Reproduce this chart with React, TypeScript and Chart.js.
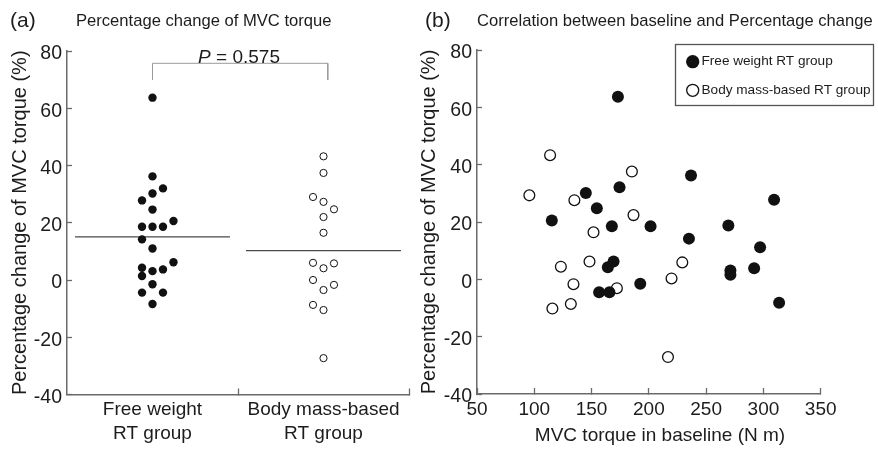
import React, { useEffect, useRef } from "react";
import { Chart, registerables } from "chart.js";

Chart.register(...registerables);

const FONT = "'Liberation Sans', Arial, Helvetica, sans-serif";

// ---------- Panel (a) data ----------
const groupLabels = [
  ["Free weight", "RT group"],
  ["Body mass-based", "RT group"],
];
const freeWeightChange = [63.7, 36.2, 32.0, 30.2, 27.8, 24.6, 20.6, 18.6, 18.6, 18.6, 14.2, 11.0, 6.2, 4.3, 3.7, 3.1, 1.4, -1.5, -4.4, -4.4, -8.4];
const freeWeightSlot = [0, 0, 1, 0, -1, 0, 2, -1, 0, 1, -1, 0, 2, -1, 1, 0, -1, 0, -1, 1, 0];
const bodyMassChange = [43.2, 37.4, 29.0, 27.3, 24.7, 22.0, 16.5, 6.0, 5.8, 4.1, 0.0, -1.7, -3.5, -8.7, -10.5, -27.3];
const bodyMassSlot = [0, 0, -1, 0, 1, 0, 0, -1, 1, 0, -1, 1, 0, -1, 0, 0];
const pValue = "0.575";
const yMin = -40;
const yMax = 80;
const yStep = 20;

// ---------- Panel (b) data ----------
const freeWeightBaseline = [173, 145, 174.4, 236.8, 154.6, 115.3, 167.7, 201.5, 269.4, 309.3, 235, 297.1, 169.2, 164.2, 271.2, 271.2, 291.9, 192.5, 156.6, 165.6, 313.7];
const freeWeightChangeB = [63.7, 30.1, 32.1, 36.2, 24.8, 20.5, 18.5, 18.5, 18.8, 27.8, 14.2, 11.2, 6.2, 4.2, 3.1, 1.6, 3.9, -1.5, -4.5, -4.5, -8.2];
const bodyMassBaseline = [113.8, 95.7, 135, 185.2, 186.6, 151.7, 148.2, 123.2, 229.2, 219.8, 134.2, 172.1, 131.9, 115.8, 216.7];
const bodyMassChangeB = [43.3, 29.3, 27.6, 37.6, 22.4, 16.4, 6.2, 4.4, 5.9, 0.3, -1.7, -3.1, -8.6, -10.2, -27.1];
const xMinB = 50;
const xMaxB = 350;
const xStepB = 50;

const seriesNames = ["Free weight RT group", "Body mass-based RT group"];
const titleA = "Percentage change of MVC torque";
const titleB = "Correlation between baseline and Percentage change";
const yTitle = "Percentage change of MVC torque (%)";
const xTitleB = "MVC torque in baseline (N m)";

// ---------- styling ----------
const SLOT = 0.0613;
const HALF_MEAN = 0.453;
const AXIS = "#6a6a6a";
const INK = "#111111";
const TEXT = "#1c1c1c";

const mean = (a: number[]) => a.reduce((s, v) => s + v, 0) / a.length;

function drawText(ctx: CanvasRenderingContext2D, text: string, x: number, y: number, size: number, align: CanvasTextAlign = "left", style = "normal") {
  ctx.save();
  ctx.font = `${style} ${size}px ${FONT}`;
  ctx.fillStyle = TEXT;
  ctx.textAlign = align;
  ctx.textBaseline = "middle";
  ctx.fillText(text, x, y);
  ctx.restore();
}

const textPluginA = {
  id: "textA",
  afterDraw(chart: any) {
    const ctx = chart.ctx as CanvasRenderingContext2D;
    drawText(ctx, "(a)", 10, 21, 21);
    drawText(ctx, titleA, 76, 21, 16.6);
    // P value label centered above bracket
    const xs = chart.scales.x;
    const ys = chart.scales.y;
    const cx = xs.getPixelForValue(0.506);
    const cy = ys.getPixelForValue(77.7);
    ctx.save();
    ctx.font = `italic 19px ${FONT}`;
    const wP = ctx.measureText("P").width;
    ctx.font = `normal 19px ${FONT}`;
    const rest = " = " + pValue;
    const wR = ctx.measureText(rest).width;
    ctx.restore();
    const start = cx - (wP + wR) / 2;
    drawText(ctx, "P", start, cy, 19, "left", "italic");
    drawText(ctx, rest, start + wP, cy, 19, "left");
  },
};

const textPluginB = {
  id: "textB",
  afterDraw(chart: any) {
    const ctx = chart.ctx as CanvasRenderingContext2D;
    drawText(ctx, "(b)", 10, 21, 21);
    drawText(ctx, titleB, 62, 21, 16.6);
    drawText(ctx, xTitleB, 245, 436, 19, "center");
    // legend box
    ctx.save();
    ctx.strokeStyle = "#555";
    ctx.lineWidth = 1.3;
    ctx.strokeRect(260.5, 44.5, 198, 61);
    const ds = chart.data.datasets;
    const rows = [61.7, 90.3];
    [0, 1].forEach((i) => {
      const d = ds[i];
      ctx.beginPath();
      ctx.arc(277.7, rows[i], 6, 0, Math.PI * 2);
      ctx.fillStyle = d.backgroundColor;
      ctx.fill();
      ctx.lineWidth = 1.3;
      ctx.strokeStyle = d.borderColor;
      ctx.stroke();
      drawText(ctx, d.label, 286.5, rows[i], 13.6);
    });
    ctx.restore();
  },
};

function yScale(titlePad: number, width: number) {
  return {
    type: "linear",
    min: yMin,
    max: yMax,
    ticks: {
      stepSize: yStep,
      color: TEXT,
      font: { size: 19.5, family: FONT },
      padding: 10,
      labelOffset: 3,
    },
    grid: {
      drawOnChartArea: false,
      drawTicks: true,
      tickLength: -5,
      tickColor: AXIS,
      tickWidth: 1.3,
    },
    border: { display: true, color: AXIS, width: 1.5 },
    title: {
      display: true,
      text: yTitle,
      color: TEXT,
      font: { size: 20, family: FONT },
      padding: { top: titlePad, bottom: 0 },
    },
    afterFit: (s: any) => {
      s.width = width;
    },
  };
}

export default function App() {
  const refA = useRef<HTMLCanvasElement>(null);
  const refB = useRef<HTMLCanvasElement>(null);

  useEffect(() => {
    const meanFW = mean(freeWeightChange);
    const meanBM = mean(bodyMassChange);

    const chartA = new Chart(refA.current as HTMLCanvasElement, {
      type: "scatter",
      data: {
        datasets: [
          {
            label: seriesNames[0],
            data: freeWeightChange.map((v, i) => ({ x: 0 + freeWeightSlot[i] * SLOT, y: v })),
            pointRadius: 4.2,
            backgroundColor: INK,
            borderColor: INK,
            borderWidth: 0,
          },
          {
            label: seriesNames[1],
            data: bodyMassChange.map((v, i) => ({ x: 1 + bodyMassSlot[i] * SLOT, y: v })),
            pointRadius: 3.6,
            backgroundColor: "#ffffff",
            borderColor: INK,
            borderWidth: 1,
          },
          {
            label: "mean FW",
            data: [{ x: -HALF_MEAN, y: meanFW }, { x: HALF_MEAN, y: meanFW }],
            showLine: true,
            pointRadius: 0,
            borderColor: "#4a4a4a",
            borderWidth: 1.3,
          },
          {
            label: "mean BM",
            data: [{ x: 1 - HALF_MEAN, y: meanBM }, { x: 1 + HALF_MEAN, y: meanBM }],
            showLine: true,
            pointRadius: 0,
            borderColor: "#4a4a4a",
            borderWidth: 1.3,
          },
          {
            label: "bracket",
            data: [
              { x: 0, y: 69.9 },
              { x: 0, y: 75.7 },
              { x: 1.025, y: 75.7 },
              { x: 1.025, y: 69.9 },
            ],
            showLine: true,
            pointRadius: 0,
            borderColor: "#9a9a9a",
            borderWidth: 1,
          },
        ],
      } as any,
      options: {
        animation: false,
        responsive: true,
        maintainAspectRatio: false,
        layout: { padding: { left: 0, top: 51, right: 31, bottom: 0 } },
        plugins: { legend: { display: false }, tooltip: { enabled: false }, title: { display: false } },
        scales: {
          x: {
            type: "linear",
            min: -0.5,
            max: 1.5,
            afterBuildTicks: (s: any) => {
              s.ticks = [-0.5, 0, 0.5, 1, 1.5].map((value) => ({ value }));
            },
            ticks: {
              autoSkip: false,
              maxRotation: 0,
              color: TEXT,
              font: { size: 19, family: FONT, lineHeight: 1.3 },
              padding: 8.6,
              callback: (v: any) => (v === 0 ? groupLabels[0] : v === 1 ? groupLabels[1] : ""),
            },
            grid: {
              drawOnChartArea: false,
              drawTicks: true,
              tickLength: -6,
              tickWidth: 1.3,
              tickColor: (c: any) => (c.tick && (c.tick.value === 0.5 || c.tick.value === 1.5) ? AXIS : "rgba(0,0,0,0)"),
            },
            border: { display: true, color: AXIS, width: 1.5 },
            afterFit: (s: any) => {
              s.height = 449 - 394.5;
            },
          },
          y: yScale(8, 67),
        } as any,
      },
      plugins: [textPluginA],
    });

    const chartB = new Chart(refB.current as HTMLCanvasElement, {
      type: "scatter",
      data: {
        datasets: [
          {
            label: seriesNames[0],
            data: freeWeightBaseline.map((x, i) => ({ x, y: freeWeightChangeB[i] })),
            pointRadius: 6,
            backgroundColor: INK,
            borderColor: INK,
            borderWidth: 0,
          },
          {
            label: seriesNames[1],
            data: bodyMassBaseline.map((x, i) => ({ x, y: bodyMassChangeB[i] })),
            pointRadius: 5.4,
            backgroundColor: "#ffffff",
            borderColor: INK,
            borderWidth: 1.3,
          },
        ],
      } as any,
      options: {
        animation: false,
        responsive: true,
        maintainAspectRatio: false,
        layout: { padding: { left: 0, top: 50, right: 57.3, bottom: 0 } },
        plugins: { legend: { display: false }, tooltip: { enabled: false }, title: { display: false } },
        scales: {
          x: {
            type: "linear",
            min: xMinB,
            max: xMaxB,
            ticks: {
              stepSize: xStepB,
              autoSkip: false,
              maxRotation: 0,
              color: TEXT,
              font: { size: 19, family: FONT },
              padding: 10.6,
            },
            grid: {
              drawOnChartArea: false,
              drawTicks: true,
              tickLength: -6,
              tickWidth: 1.3,
              tickColor: AXIS,
            },
            border: { display: true, color: AXIS, width: 1.5 },
            afterFit: (s: any) => {
              s.height = 449 - 394;
            },
          },
          y: yScale(2, 62),
        } as any,
      },
      plugins: [textPluginB],
    });

    return () => {
      chartA.destroy();
      chartB.destroy();
    };
  }, []);

  return (
    <div style={{ position: "absolute", left: 0, top: 0, width: 878, height: 449, background: "#ffffff" }}>
      <div style={{ position: "absolute", left: 0, top: 0, width: 440, height: 449 }}>
        <canvas ref={refA} />
      </div>
      <div style={{ position: "absolute", left: 415, top: 0, width: 463, height: 449 }}>
        <canvas ref={refB} />
      </div>
    </div>
  );
}
